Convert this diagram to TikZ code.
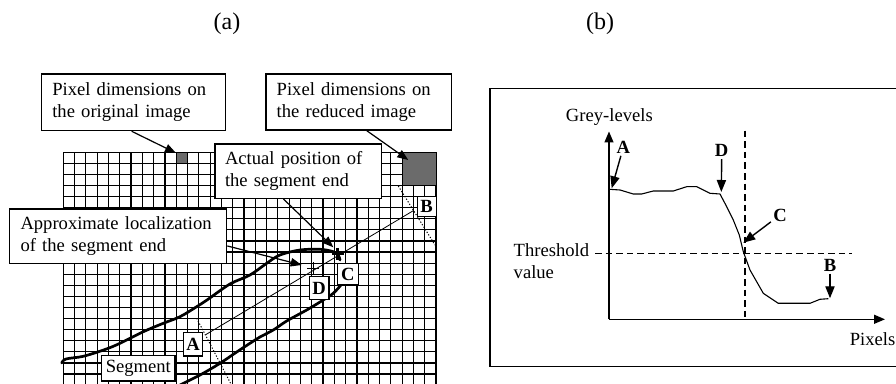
\documentclass[tikz,border=0pt]{standalone}
\usepackage{fontspec}
\setmainfont{Liberation Serif}
\usetikzlibrary{arrows.meta}
\begin{document}
\begin{tikzpicture}[x=0.5pt,y=-0.5pt,
  txt/.style={font=\fontsize{9.3}{11}\selectfont, inner sep=0pt},
  ttl/.style={font=\fontsize{12}{14}\selectfont, inner sep=0pt},
  callout/.style={draw, line width=0.6pt, fill=white, font=\fontsize{9.3}{11}\selectfont, align=left, inner ysep=0pt},
  letterbox/.style={draw, line width=0.6pt, fill=white, font=\fontsize{9.3}{11}\selectfont\bfseries, inner sep=0pt},
  bletter/.style={font=\fontsize{9.3}{11}\selectfont\bfseries, inner sep=1pt},
  gridline/.style={line width=0.6pt},
  pixfill/.style={fill=black!58, draw=black, line width=0.5pt},
  segcurve/.style={line width=1.35pt, line join=round, line cap=round},
  thinline/.style={line width=0.4pt},
  dotline/.style={line width=0.5pt, dash pattern=on 0.6pt off 0.9pt},
  atip/.style={-{Triangle[length=5.5pt,width=4.2pt]}, line width=0.6pt},
  axis/.style={-{Triangle[length=5.5pt,width=4.5pt]}, line width=0.7pt},
  btip/.style={-{Triangle[length=6pt,width=4.6pt]}, line width=0.7pt},
  dashline/.style={line width=0.6pt, dash pattern=on 3.3pt off 2pt},
  gcurve/.style={line width=0.55pt, line join=round}
]
\useasboundingbox (0,0) rectangle (896,384);
\fill[white] (0,0) rectangle (896,384);

% titles
\node[ttl] (ta) at (227,24) {(a)};
\node[ttl] (tb) at (600,24) {(b)};

% ---------------- (a) grid ----------------
\foreach \i in {0,...,33}
  \draw[gridline] ({63.3+\i*11.294},152.3) -- ({63.3+\i*11.294},384);
\foreach \j in {0,...,20}
  \draw[gridline] (63.3,{152.3+\j*11.085}) -- (436,{152.3+\j*11.085});
\draw[pixfill] (176.2,152.3) rectangle (187.5,163.4);
\draw[pixfill] (402.1,152.3) rectangle (436,185.55);

% segment borders
\draw[segcurve] plot[smooth, tension=0.55] coordinates {(61.7,363) (66,359) (83.3,356.3) (105,349.5) (120,343.3) (143.3,331.7) (163.3,323.3) (180,316.7) (196.7,306.7) (208,299.3) (230,284) (250,275) (266.7,263.3) (280,255) (300,250) (320,249.3) (333.3,251.7) (338.3,255) (340,260)};
\draw[segcurve] plot[smooth, tension=0.55] coordinates {(174,388) (200,375) (220,363.3) (236.7,352) (250,343.3) (260,337) (273.3,330) (286.7,321) (306.7,310) (323.3,300) (333.3,293.3) (341,285)};

% construction lines
\coordinate (pA) at (206,334.5);
\coordinate (pB) at (413.3,210.7);
\draw[thinline] (pA) -- (pB);
\coordinate (dA1) at (196.7,318.3);
\coordinate (dA2) at (232,386);
\draw[dotline] (dA1) -- (dA2);
\coordinate (dB1) at (398.3,186);
\coordinate (dB2) at (435,245);
\draw[dotline] (dB1) -- (dB2);

% crosses
\coordinate (xC) at (337.5,254);
\coordinate (xD) at (313.3,268.3);
\draw[line width=1.1pt] ([xshift=-3pt]xC) -- ([xshift=3pt]xC) ([yshift=3pt]xC) -- ([yshift=-3pt]xC);
\draw[line width=0.6pt] ([xshift=-3pt]xD) -- ([xshift=3pt]xD) ([yshift=3pt]xD) -- ([yshift=-3pt]xD);

% boxes
\node[callout, minimum width=91.8pt, minimum height=28.35pt, text width=81.2pt, inner xsep=5.3pt] (orig) at (133.5,102.35) {Pixel dimensions on\\the original image};
\node[callout, minimum width=92.85pt, minimum height=28pt, text width=82.15pt, inner xsep=5.35pt] (red) at (358.85,102) {Pixel dimensions on\\the reduced image};
\node[callout, minimum width=83.35pt, minimum height=27.15pt, text width=73.35pt, inner xsep=5pt] (act) at (298.35,171.15) {\makebox[73.35pt][s]{Actual position of}\\the segment end};
\node[callout, minimum width=108.7pt, minimum height=27.15pt, text width=97.5pt, inner xsep=5.6pt] (appr) at (118,236.15) {\makebox[97.5pt][s]{Approximate localization}\\of the segment end};

\node[letterbox, minimum width=9.7pt, minimum height=11.65pt] (bA) at (193,344.35) {A};
\node[letterbox, minimum width=9.6pt, minimum height=10pt] (bB) at (426.7,206.3) {B};
\node[letterbox, minimum width=10.4pt, minimum height=10.85pt] (bC) at (347.9,274.15) {C};
\node[letterbox, minimum width=9.85pt, minimum height=11.5pt] (bD) at (319.15,288) {D};
\node[callout, align=center, inner sep=0pt, minimum width=36.7pt, minimum height=12.75pt] (seg) at (138.35,368.25) {Segment};

% callout arrows
\coordinate (tOrig) at (176,153);
\coordinate (tRed) at (408.3,160);
\coordinate (tAct) at (333.3,247.3);
\coordinate (tAppr) at (301.7,265);
\draw[atip] ([xshift=-0.9pt]orig.south) -- (tOrig);
\draw[atip] ([xshift=3.9pt]red.south) -- (tRed);
\draw[atip] ([xshift=-7.5pt]act.south) -- (tAct);
\draw[atip] ([yshift=-4.9pt]appr.east) -- (tAppr);

% ---------------- (b) ----------------
\draw[line width=0.6pt] (897,88.3) -- (490,88.3) -- (490,366.7) -- (897,366.7);

\coordinate (O) at (609,319.3);
\coordinate (yTop) at (609,131.5);
\coordinate (xEnd) at (885,319.3);
\draw[axis] (O) -- (yTop);
\draw[axis] (O) -- (xEnd);

\coordinate (thL) at (595,253.3);
\coordinate (thR) at (851.7,253.3);
\coordinate (vT) at (745,130.7);
\coordinate (vB) at (745,319.3);
\draw[dashline] (thL) -- (thR);
\draw[dashline] (vT) -- (vB);

\draw[gcurve] (609.5,189.3) -- (620,190) -- (633.3,194) -- (641.7,194) -- (653.3,191) -- (673.3,191)
  -- (686.7,186.7) -- (696.7,186.7) -- (710,193.3) -- (720,194) -- (726.7,206.7) -- (733.3,220)
  -- (739.3,235) -- (743.3,251.7) -- (750,270) -- (763.3,293.3) -- (778.3,303.3) -- (810,303.3)
  -- (820,299.3) -- (828.3,298.7);

\node[txt] (gl) at (609.35,116.7) {Grey-levels};
\node[txt, align=left, anchor=west] (thv) at (513.3,260.8) {Threshold\\value};
\node[txt] (px) at (872.5,339.3) {Pixels};

\node[bletter] (lA) at (623.3,147.3) {A};
\node[bletter] (lD) at (721.7,150.7) {D};
\node[bletter] (lC) at (780,215) {C};
\node[bletter] (lB) at (830,265) {B};
\coordinate (gA) at (611.7,188.3);
\coordinate (gD) at (721.3,192);
\coordinate (gC) at (743.3,242.7);
\coordinate (gB) at (830,298.3);
\draw[btip] (lA) -- (gA);
\draw[btip] (lD.south) -- (gD);
\draw[btip] (lC) -- (gC);
\draw[btip] (lB.south) -- (gB);
\end{tikzpicture}
\end{document}
